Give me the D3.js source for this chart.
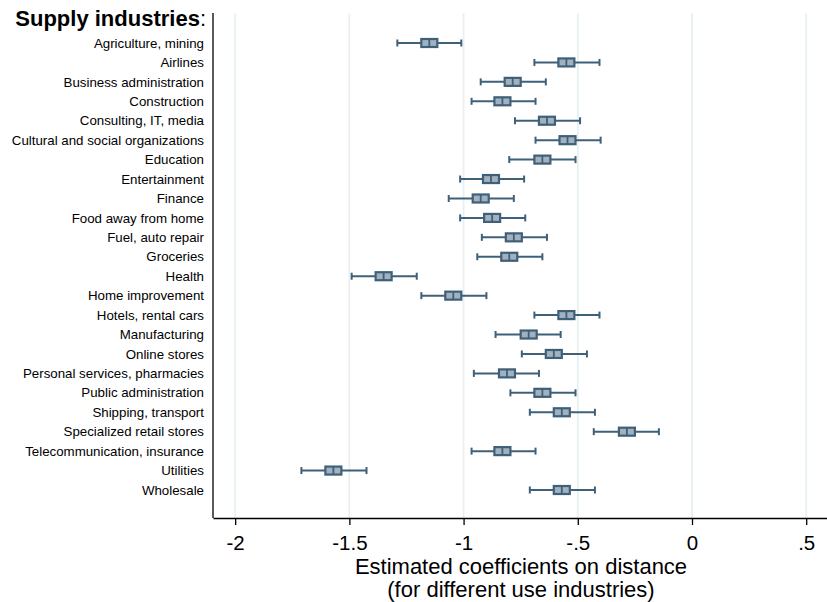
<!DOCTYPE html>
<html>
<head>
<meta charset="utf-8">
<script src="https://cdn.jsdelivr.net/npm/d3@7"></script>
<style>
  html, body { margin: 0; padding: 0; background: #fff; }
  svg { display: block; font-family: "Liberation Sans", Arial, sans-serif; }
</style>
</head>
<body>
<svg id="chart" width="827" height="602"></svg>
<script>
// Supply industries (rows, top to bottom)
const industries = [
  "Agriculture, mining", "Airlines", "Business administration", "Construction",
  "Consulting, IT, media", "Cultural and social organizations", "Education",
  "Entertainment", "Finance", "Food away from home", "Fuel, auto repair",
  "Groceries", "Health", "Home improvement", "Hotels, rental cars",
  "Manufacturing", "Online stores", "Personal services, pharmacies",
  "Public administration", "Shipping, transport", "Specialized retail stores",
  "Telecommunication, insurance", "Utilities", "Wholesale"
];

// Point estimates of the distance coefficient
const coef = [
  -1.15, -0.55, -0.785, -0.83, -0.635, -0.545, -0.655, -0.88, -0.925, -0.875,
  -0.78, -0.80, -1.35, -1.045, -0.55, -0.715, -0.605, -0.81, -0.655, -0.57,
  -0.285, -0.83, -1.57, -0.57
];

// Confidence interval bounds
const ciLow = [
  -1.29, -0.69, -0.925, -0.965, -0.775, -0.685, -0.80, -1.015, -1.065, -1.015,
  -0.92, -0.94, -1.49, -1.185, -0.69, -0.86, -0.745, -0.955, -0.795, -0.71,
  -0.43, -0.965, -1.71, -0.71
];
const ciHigh = [
  -1.01, -0.405, -0.64, -0.685, -0.49, -0.40, -0.51, -0.735, -0.78, -0.73,
  -0.635, -0.655, -1.205, -0.90, -0.405, -0.575, -0.46, -0.67, -0.51, -0.425,
  -0.145, -0.685, -1.425, -0.425
];

// x-axis ticks and labels
const xTicks = [-2, -1.5, -1, -0.5, 0, 0.5];
const xTickLabels = ["-2", "-1.5", "-1", "-.5", "0", ".5"];

const rows = industries.map((name, i) => ({ name, est: coef[i], lo: ciLow[i], hi: ciHigh[i] }));

const svg = d3.select("#chart");
const plotLeft = 213, plotRight = 827, plotTop = 13, plotBottom = 518;

const x = d3.scaleLinear().domain([-2.097, 0.591]).range([plotLeft, plotRight]);
const y = d3.scalePoint().domain(industries).range([43, 490]);

const ink = "#3f6079";
const boxFill = "#a2b1bf";

// vertical grid lines
svg.append("g").selectAll("line").data(xTicks).join("line")
  .attr("x1", d => x(d)).attr("x2", d => x(d))
  .attr("y1", plotTop).attr("y2", plotBottom)
  .attr("stroke", "#e8f0f2").attr("stroke-width", 1.8);

// x axis
const xAxis = d3.axisBottom(x).tickValues(xTicks)
  .tickFormat((d, i) => xTickLabels[i]).tickSize(7).tickSizeOuter(0);
const gx = svg.append("g").attr("transform", `translate(0,${plotBottom})`).call(xAxis);
gx.select(".domain").attr("stroke", "#000").attr("stroke-width", 1.3);
gx.selectAll(".tick line").attr("stroke", "#000").attr("stroke-width", 1.3);
gx.selectAll(".tick text").attr("font-size", 20.5).attr("fill", "#000")
  .attr("font-family", "Liberation Sans, Arial, sans-serif").attr("dy", "1.05em");

// y axis: line plus right-aligned labels
svg.append("line").attr("x1", plotLeft).attr("x2", plotLeft).attr("y1", plotTop).attr("y2", plotBottom)
  .attr("stroke", "#000").attr("stroke-width", 1.3);
svg.append("g").selectAll("text").data(industries).join("text")
  .attr("x", 204).attr("y", d => y(d)).attr("dy", "0.35em")
  .attr("text-anchor", "end").attr("font-size", 13.3).attr("fill", "#000")
  .text(d => d);

// heading
const head = svg.append("text").attr("x", 206).attr("y", 26).attr("text-anchor", "end")
  .attr("font-size", 22).attr("fill", "#000");
head.append("tspan").attr("font-weight", "bold").text("Supply industries");
head.append("tspan").text(":");

// x-axis title
const title = svg.append("text").attr("text-anchor", "middle").attr("font-size", 22).attr("fill", "#000");
title.append("tspan").attr("x", 521).attr("y", 574).text("Estimated coefficients on distance");
title.append("tspan").attr("x", 521).attr("y", 597).text("(for different use industries)");

// confidence intervals with caps
const marks = svg.append("g").selectAll("g").data(rows).join("g");
marks.append("line")
  .attr("x1", d => x(d.lo)).attr("x2", d => x(d.hi))
  .attr("y1", d => y(d.name)).attr("y2", d => y(d.name))
  .attr("stroke", ink).attr("stroke-width", 2);
marks.append("line")
  .attr("x1", d => x(d.lo)).attr("x2", d => x(d.lo))
  .attr("y1", d => y(d.name) - 3.5).attr("y2", d => y(d.name) + 3.5)
  .attr("stroke", ink).attr("stroke-width", 2);
marks.append("line")
  .attr("x1", d => x(d.hi)).attr("x2", d => x(d.hi))
  .attr("y1", d => y(d.name) - 3.5).attr("y2", d => y(d.name) + 3.5)
  .attr("stroke", ink).attr("stroke-width", 2);

// point-estimate box markers
marks.append("rect")
  .attr("x", d => x(d.est) - 8).attr("y", d => y(d.name) - 4)
  .attr("width", 16).attr("height", 8)
  .attr("fill", boxFill).attr("stroke", ink).attr("stroke-width", 2.2);
marks.append("line")
  .attr("x1", d => x(d.est)).attr("x2", d => x(d.est))
  .attr("y1", d => y(d.name) - 4).attr("y2", d => y(d.name) + 4)
  .attr("stroke", ink).attr("stroke-width", 1.8);
</script>
</body>
</html>
